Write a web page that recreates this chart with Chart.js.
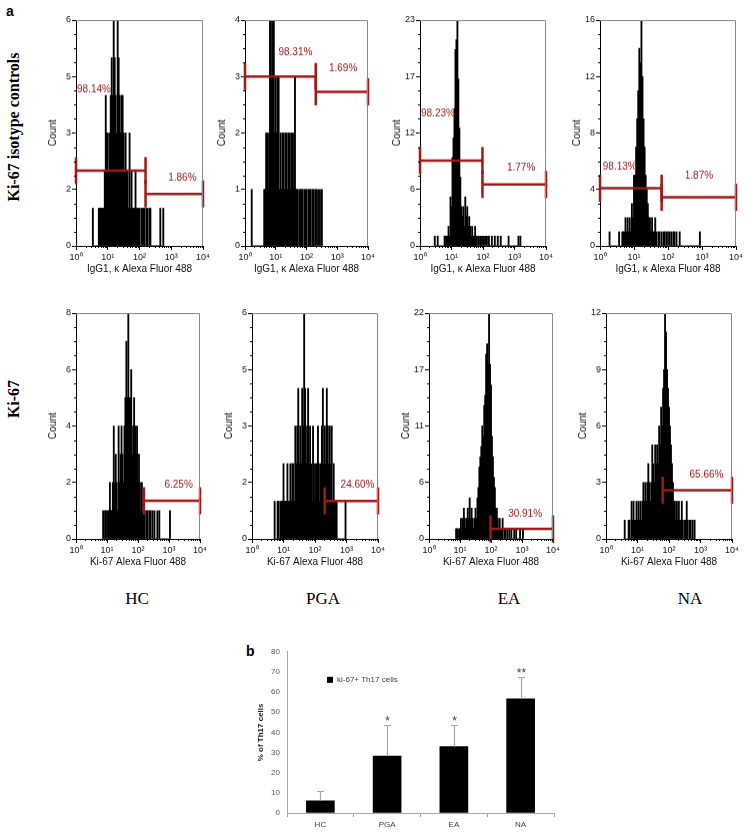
<!DOCTYPE html>
<html>
<head>
<meta charset="utf-8">
<script src="https://cdn.jsdelivr.net/npm/chart.js@4.4.1/dist/chart.umd.min.js"></script>
<style>
  body { margin: 0; background: #fff; }
  #page { position: relative; width: 746px; height: 835px; overflow: hidden; background: #fff; }
  .box { position: absolute; }
  .txt { position: absolute; white-space: nowrap; color: #000; }
  .panelTag { font: bold 14px "Liberation Sans", Arial, sans-serif; }
  .rowTag { font: bold 16px "Liberation Serif", "Times New Roman", serif; transform: translate(-50%, -50%) rotate(-90deg); }
  .colTag { font: 17px "Liberation Serif", "Times New Roman", serif; transform: translate(-50%, -50%); }
</style>
</head>
<body>
<div id="page">
  <div class="txt panelTag" style="left:6px; top:3px;">a</div>
  <div class="txt panelTag" style="left:246px; top:643px;">b</div>
  <div class="txt rowTag" style="left:14px; top:127px;">Ki-67 isotype controls</div>
  <div class="txt rowTag" style="left:14px; top:399px;">Ki-67</div>
  <div class="txt colTag" style="left:137px; top:599px;">HC</div>
  <div class="txt colTag" style="left:323px; top:599px;">PGA</div>
  <div class="txt colTag" style="left:509px; top:599px;">EA</div>
  <div class="txt colTag" style="left:690px; top:599px;">NA</div>
</div>
<script>
// Histogram channels: 32 per decade, from 10^0 to 10^4
var CH_PER_DECADE = 32;

// isotype controls (top row) - counts per channel, first channel given by *Start
var isoHCStart = 17;
var isoHC = [1, 0,0,0,0,0, 1,1,1,1,1,1,2,
  4,3,3,2,3,4,5,4,6,5, 4,3,6,5,4,3,4,4,3,2, 3,2,2,1,3,1,2,1,1,1, 2,1,1,1,1,0,1,1,1,1, 0,1,1,0,1,1,
  0,0,0,0,0,0,0,0,0, 1,0,0,1];

var isoPGAStart = 7;
var isoPGA = [1, 0,0,0,0,0,0,0,0,0,0,0,0,
  1,1,2,2,1,2,4,4,3,4, 4,2,3,2,3,3,1,2,1,2, 2,1,2,2,1,2,2,1,2,2, 1,2,3,1,1,1,0,1,1,1,
  1,0,1,1,1,0,1,1,1,0, 1,1,0,1,1,0,1,0,1,0,1];

var isoEAStart = 15;
var isoEA = [1,0,0,1, 0,0,0,0,0,0, 1,1,1,1,2,1,
  5,4,9,11,14,20,21,23,17,12, 7,4,3,4,2,5,3,4,2,3, 2,1,2,1,1,2,1,0,1,0, 1,1,0,1,1,0,1,1,0,1,
  0,0,1,0,0,1,0,0,1,0,0,1, 0,0,0,0,0,0,0, 1, 0,0,0,0,0,0,0,0,0, 1,0,1];

var isoNAStart = 9;
var isoNA = [1, 0,0,0,0,0,0,0,0, 1,0,0, 1,1,1,2,1,2,1,2,1,
  3,2,5,5,7,9,11,14,13,16, 12,9,7,5,4,3,2,2,1,2, 1,1,2,1,0,1,1,0,1,0, 1,1,0,1,0,1,0,1,0,1,
  1,0,1,0,0,1, 0,0,0,0,0,0,0,0,0,0,0,0,0,0,0,0,0,0, 1];

// Ki-67 (bottom row)
var kiHCStart = 28;
var kiHC = [1,0,1,1,0,1,1,2,1,1, 2,4,2,3,2,1,4,2,3,4, 3,2,4,5,7,5,8,5,5,6, 3,4,5,4,3,4,2,3,2,1,
  2,1,1,1,0,1,1,0,1,1, 0,1,0,1,0,0,1,0,1, 0,0,0,0,0,0,0,0,0,0, 1];

var kiPGAStart = 23;
var kiPGA = [1,0,0,1,1,0,1,1,1,2, 1,1,1,2,1,1,2,1,2,2, 1,3,2,3,4,2,3,2,4,3, 6,4,2,3,4,2,3,2,1,3,
  2,1,2,2,3,2,1,2,3,4, 2,3,2,4,3,2,3,2,3,1, 2,1,1,1, 0,0,0,0,0,0,0,0, 1];

var kiEAStart = 28;
var kiEA = [1,1,0,1,1,2,1,2,3,2, 1,2,3,2,4,2,3,2,1,2, 3,2,4,5,7,8,9,11,10,13, 14,18,19,17,22,17,15,10,8,6,
  5,3,3,2,1,2,1,1,2,0, 1,1,0,1,0,1,0,1,0,0, 1,0,1,0,0,0,1,0,0,1];

var kiNAStart = 19;
var kiNA = [1,0,0,0,1,1,0,2,1,2, 1,1,2,1,2,1,2,1,2,3, 2,3,2,3,4,3,2,3,5,4, 3,5,4,5,4,6,5,7,6,8,
  9,12,11,9,8,7,6,5,4,3, 2,2,1,2,1,2,1,1,2,1, 0,1,1,2,1,0,1,1,0,1,0,1];

// y-axis maxima for each panel (count)
var countMax = [6, 4, 23, 16, 8, 6, 22, 12];

// marker gates: split point (fluorescence), gate levels (count) and percentages
var gateSplit = [155, 200, 96, 65, 155, 203, 96, 63];
var gateLowLevel = [2.0, 3.0, 8.7, 4.09, null, null, null, null];
var gateHighLevel = [1.38, 2.73, 6.26, 3.45, 1.35, 1.01, 0.97, 2.59];
var pctLow = ['98.14%', '98.31%', '98.23%', '98.13%', null, null, null, null];
var pctHigh = ['1.86%', '1.69%', '1.77%', '1.87%', '6.25%', '24.60%', '30.91%', '65.66%'];

var xTitles = ['IgG1, \u03ba Alexa Fluor 488', 'IgG1, \u03ba Alexa Fluor 488', 'IgG1, \u03ba Alexa Fluor 488', 'IgG1, \u03ba Alexa Fluor 488',
  'Ki-67 Alexa Fluor 488', 'Ki-67 Alexa Fluor 488', 'Ki-67 Alexa Fluor 488', 'Ki-67 Alexa Fluor 488'];

// panel b
var barCats = ['HC', 'PGA', 'EA', 'NA'];
var barMeans = [6.1, 28.2, 33.0, 56.7];
var barSD = [4.9, 15.4, 10.9, 10.8];
var barSig = ['', '*', '*', '**'];
var barLegend = 'ki-67+ Th17 cells';

var SANS = '"Liberation Sans", Arial, sans-serif';
var RED = '#a01818';
var SUP = ['\u2070', '\u00b9', '\u00b2', '\u00b3', '\u2074'];

// plot-area rectangles [left, top, right, bottom] for the 8 histograms
var plotRects = [
  [76, 12, 207, 245.5], [245, 12, 372, 245.5], [420, 12, 550, 245.5], [600, 12, 740, 245.5],
  [76, 305, 204, 538.5], [252, 305, 382, 538.5], [429, 305, 557, 538.5], [606, 305, 736, 538.5]
];
// where the percentage texts sit: [decade, count] for the low and high gate labels
var pctLowPos = [[0.565, 4.16], [1.64, 3.43], [0.57, 13.5], [0.58, 5.57]];
var pctHighPos = [[3.35, 1.81], [3.19, 3.14], [3.21, 7.9], [2.91, 4.93], [3.31, 1.9], [3.35, 1.44], [3.1, 2.38], [3.19, 3.39]];

var Y_W = 36, X_H = 31, PAD_T = 8, PAD_R = 12;

/**
 * Turn a channel count list into {x, y} points on the log axis
 */
function toPoints(start, counts) {
    var pts = [];
    counts.forEach(function(c, k) {
        pts.push({ x: Math.pow(10, (start + k) / CH_PER_DECADE), y: c });
    });
    return pts;
}

/**
 * Plugin: grey box, minor ticks and percentage labels
 */
var histExtras = {
    id: 'histExtras',
    afterDraw: function(chart) {
        var ctx = chart.ctx, a = chart.chartArea;
        var xs = chart.scales.x, ys = chart.scales.y;
        var p = chart.options.plugins.histExtras;
        ctx.save();
        // top and right frame
        ctx.strokeStyle = '#8a8a8a';
        ctx.lineWidth = 1;
        ctx.beginPath();
        ctx.moveTo(a.left, a.top + 0.5);
        ctx.lineTo(a.right - 0.5, a.top + 0.5);
        ctx.lineTo(a.right - 0.5, a.bottom);
        ctx.stroke();
        // minor ticks
        ctx.strokeStyle = '#000';
        ctx.beginPath();
        for (var d = 0; d < 4; d++) {
            for (var m = 2; m < 10; m++) {
                var px = Math.round(xs.getPixelForValue(m * Math.pow(10, d))) + 0.5;
                ctx.moveTo(px, a.bottom);
                ctx.lineTo(px, a.bottom + 2);
            }
        }
        var step = p.max / 4;
        for (var k = 1; k < 16; k++) {
            if (k % 4 === 0) continue;
            var py = Math.round(ys.getPixelForValue(k * step / 4)) + 0.5;
            ctx.moveTo(a.left, py);
            ctx.lineTo(a.left - 2, py);
        }
        ctx.stroke();
        // percentage texts
        ctx.fillStyle = RED;
        ctx.font = '10px ' + SANS;
        ctx.textAlign = 'center';
        ctx.textBaseline = 'middle';
        p.labels.forEach(function(l) {
            ctx.fillText(l.text, xs.getPixelForValue(Math.pow(10, l.pos[0])), ys.getPixelForValue(l.pos[1]));
        });
        ctx.restore();
    }
};

/**
 * Build one histogram panel
 */
function makeHistogram(i, start, counts) {
    var r = plotRects[i];
    var w = (r[2] - r[0]) + Y_W + PAD_R;
    var h = (r[3] - r[1]) + PAD_T + X_H;
    var div = document.createElement('div');
    div.className = 'box';
    div.style.left = (r[0] - Y_W) + 'px';
    div.style.top = (r[1] - PAD_T) + 'px';
    div.style.width = w + 'px';
    div.style.height = h + 'px';
    var cv = document.createElement('canvas');
    cv.width = w; cv.height = h;
    cv.style.width = w + 'px'; cv.style.height = h + 'px';
    div.appendChild(cv);
    document.getElementById('page').appendChild(div);

    var max = countMax[i];
    var datasets = [{
        type: 'bar',
        data: toPoints(start, counts),
        backgroundColor: '#000',
        borderWidth: 0,
        barThickness: 1.2,
        order: 2
    }];
    var gateStyle = {
        type: 'line', borderColor: RED, borderWidth: 2.5, pointStyle: 'line', pointRotation: 90,
        pointRadius: 13.5, pointBorderWidth: 2.5, pointBorderColor: RED, clip: false, order: 0
    };
    if (gateLowLevel[i] !== null) {
        datasets.push(Object.assign({ data: [{ x: 1, y: gateLowLevel[i] }, { x: gateSplit[i], y: gateLowLevel[i] }] }, gateStyle));
    }
    datasets.push(Object.assign({ data: [{ x: gateSplit[i], y: gateHighLevel[i] }, { x: 10000, y: gateHighLevel[i] }] }, gateStyle));

    var labels = [];
    if (pctLow[i]) labels.push({ text: pctLow[i], pos: pctLowPos[i] });
    labels.push({ text: pctHigh[i], pos: pctHighPos[i] });

    new Chart(cv, {
        data: { datasets: datasets },
        options: {
            responsive: false,
            animation: false,
            events: [],
            layout: { padding: { top: PAD_T, right: PAD_R, left: 0, bottom: 0 } },
            plugins: {
                legend: { display: false },
                tooltip: { enabled: false },
                histExtras: { max: max, labels: labels }
            },
            scales: {
                x: {
                    type: 'logarithmic',
                    min: 1,
                    max: 10000,
                    offset: false,
                    afterBuildTicks: function(s) {
                        s.ticks = [1, 10, 100, 1000, 10000].map(function(v) { return { value: v, major: true }; });
                    },
                    afterFit: function(s) { s.height = X_H; },
                    grid: { drawOnChartArea: false, offset: false, tickLength: 4, color: '#000' },
                    border: { color: '#000', width: 1 },
                    ticks: {
                        autoSkip: false, maxRotation: 0, padding: 2, color: '#111',
                        font: { family: SANS, size: 9 },
                        callback: function(v) { return '10' + SUP[Math.round(Math.log10(v))]; }
                    },
                    title: { display: true, text: xTitles[i], color: '#111', font: { family: SANS, size: 10 }, padding: { top: 0, bottom: 2 } }
                },
                y: {
                    type: 'linear',
                    min: 0,
                    max: max,
                    afterBuildTicks: function(s) {
                        var t = [];
                        for (var k = 0; k <= 4; k++) t.push({ value: k * max / 4 });
                        s.ticks = t;
                    },
                    afterFit: function(s) { s.width = Y_W; },
                    grid: { drawOnChartArea: false, tickLength: 4, color: '#000' },
                    border: { color: '#000', width: 1 },
                    ticks: {
                        autoSkip: false, padding: 1, color: '#111',
                        font: { family: SANS, size: 9 },
                        callback: function(v) { return String(Math.round(v)); }
                    },
                    title: { display: true, text: 'Count', color: '#111', font: { family: SANS, size: 10 }, padding: { top: 7, bottom: 0 } }
                }
            }
        },
        plugins: [histExtras]
    });
}

makeHistogram(0, isoHCStart, isoHC);
makeHistogram(1, isoPGAStart, isoPGA);
makeHistogram(2, isoEAStart, isoEA);
makeHistogram(3, isoNAStart, isoNA);
makeHistogram(4, kiHCStart, kiHC);
makeHistogram(5, kiPGAStart, kiPGA);
makeHistogram(6, kiEAStart, kiEA);
makeHistogram(7, kiNAStart, kiNA);

/**
 * Plugin for panel b: error bars, significance stars, legend
 */
var barExtras = {
    id: 'barExtras',
    afterDatasetsDraw: function(chart) {
        var ctx = chart.ctx, a = chart.chartArea;
        var xs = chart.scales.x, ys = chart.scales.y;
        ctx.save();
        ctx.strokeStyle = '#a6a6a6';
        ctx.lineWidth = 1.2;
        barMeans.forEach(function(m, k) {
            var x = Math.round(xs.getPixelForValue(k)) + 0.5;
            var y0 = ys.getPixelForValue(m);
            var y1 = Math.round(ys.getPixelForValue(m + barSD[k])) + 0.5;
            ctx.beginPath();
            ctx.moveTo(x, y0);
            ctx.lineTo(x, y1);
            ctx.moveTo(x - 3.5, y1);
            ctx.lineTo(x + 3.5, y1);
            ctx.stroke();
            if (barSig[k]) {
                ctx.fillStyle = '#404040';
                ctx.font = '12px ' + SANS;
                ctx.textAlign = 'center';
                ctx.textBaseline = 'alphabetic';
                ctx.fillText(barSig[k], x, y1 - 0.5);
            }
        });
        // legend
        ctx.fillStyle = '#000';
        ctx.fillRect(a.left + 40, a.top + 25, 6, 6);
        ctx.fillStyle = '#404040';
        ctx.font = '8px ' + SANS;
        ctx.textAlign = 'left';
        ctx.textBaseline = 'middle';
        ctx.fillText(barLegend, a.left + 50, a.top + 28);
        ctx.restore();
    }
};

(function() {
    var div = document.createElement('div');
    div.className = 'box';
    div.style.left = '240px';
    div.style.top = '640px';
    div.style.width = '316px';
    div.style.height = '195px';
    var cv = document.createElement('canvas');
    cv.width = 316; cv.height = 195;
    cv.style.width = '316px'; cv.style.height = '195px';
    div.appendChild(cv);
    document.getElementById('page').appendChild(div);

    new Chart(cv, {
        type: 'bar',
        data: {
            labels: barCats,
            datasets: [{ label: barLegend, data: barMeans, backgroundColor: '#000', barThickness: 28 }]
        },
        options: {
            responsive: false,
            animation: false,
            events: [],
            layout: { padding: { top: 10, right: 2, left: 0, bottom: 0 } },
            plugins: { legend: { display: false }, tooltip: { enabled: false } },
            scales: {
                x: {
                    afterFit: function(s) { s.height = 22; },
                    grid: { drawOnChartArea: false, offset: true, tickLength: 4, color: '#a6a6a6' },
                    border: { color: '#a6a6a6' },
                    ticks: { color: '#404040', padding: 3, font: { family: SANS, size: 8 } }
                },
                y: {
                    min: 0,
                    max: 80,
                    afterFit: function(s) { s.width = 47; },
                    grid: { drawOnChartArea: false, drawTicks: false },
                    border: { color: '#a6a6a6' },
                    ticks: { stepSize: 10, color: '#595959', padding: 7, font: { family: SANS, size: 8 } },
                    title: { display: true, text: '% of Th17 cells', color: '#222', font: { family: SANS, size: 8, weight: 'bold' }, padding: { top: 16, bottom: 0 } }
                }
            }
        },
        plugins: [barExtras]
    });
})();
</script>
</body>
</html>
